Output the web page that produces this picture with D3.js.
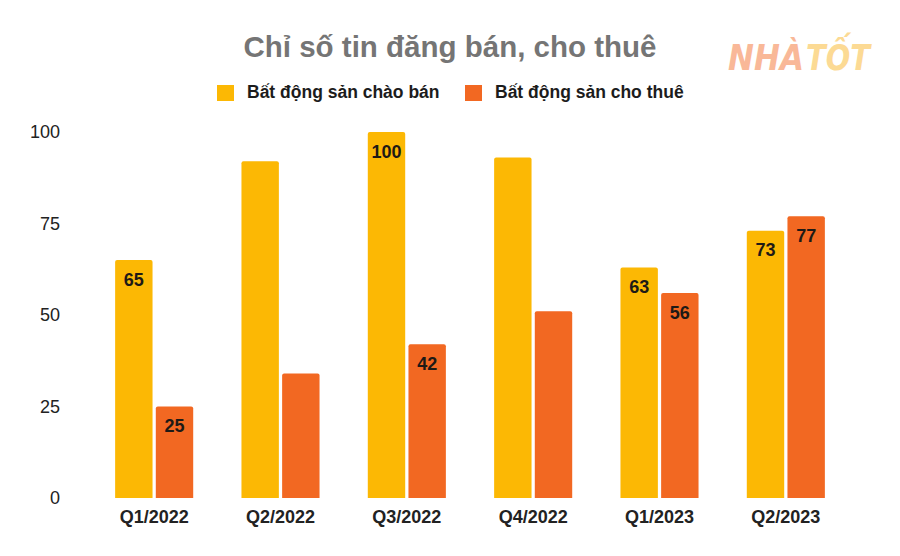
<!DOCTYPE html>
<html>
<head>
<meta charset="utf-8">
<script src="https://cdn.jsdelivr.net/npm/d3@7"></script>
<style>
  html, body { margin: 0; padding: 0; background: #fff; }
  svg { display: block; font-family: "Liberation Sans", Arial, sans-serif; }
</style>
</head>
<body>
<svg id="chart" width="900" height="556"></svg>
<script>
// Quarterly listing index
const quarters = ["Q1/2022", "Q2/2022", "Q3/2022", "Q4/2022", "Q1/2023", "Q2/2023"];
const seriesNames = ["Bất động sản chào bán", "Bất động sản cho thuê"];
const saleValues = [65, 92, 100, 93, 63, 73];
const rentValues = [25, 34, 42, 51, 56, 77];
// which bars carry a value label
const saleLabelled = [true, false, true, false, true, true];
const rentLabelled = [true, false, true, false, true, true];
const yTicks = [0, 25, 50, 75, 100];
const colors = ["#FCB804", "#F26822"];

const svg = d3.select("#chart");
svg.append("rect").attr("width", 900).attr("height", 556).attr("fill", "#fff");

const x0 = d3.scaleBand().domain(quarters).range([91, 849])
  .paddingInner(0.382).paddingOuter(0.191);
const x1 = d3.scaleBand().domain([0, 1]).range([0, x0.bandwidth()]).paddingInner(0.08);
const y = d3.scaleLinear().domain([0, 100]).range([498, 132]);

// Title
svg.append("text")
  .attr("x", 450).attr("y", 56.5)
  .attr("text-anchor", "middle")
  .attr("font-size", 29.5).attr("font-weight", "bold")
  .attr("fill", "#757575")
  .text("Chỉ số tin đăng bán, cho thuê");

// Brand mark, two words in two tints
const brand = [
  { text: "NHÀ", x: 728, w: 76, fill: "#F9B898" },
  { text: "TỐT", x: 806, w: 64, fill: "#FCDA94" }
];
brand.forEach(b => {
  svg.append("text")
    .attr("x", b.x).attr("y", 70)
    .attr("font-family", "'DejaVu Sans', sans-serif")
    .attr("font-size", 35).attr("font-weight", "bold").attr("font-style", "italic")
    .attr("textLength", b.w).attr("lengthAdjust", "spacingAndGlyphs")
    .attr("fill", b.fill)
    .text(b.text);
});

// Legend
const legendX = [217, 465];
seriesNames.forEach((name, i) => {
  svg.append("rect")
    .attr("x", legendX[i]).attr("y", 85)
    .attr("width", 17).attr("height", 16)
    .attr("fill", colors[i]);
  svg.append("text")
    .attr("x", legendX[i] + 30).attr("y", 98)
    .attr("font-size", 17.5).attr("font-weight", "bold")
    .attr("fill", "#1c1c1c")
    .text(name);
});

// Y axis labels (no axis line, no gridlines)
const yAxis = d3.axisLeft(y).tickValues(yTicks).tickSize(0).tickPadding(0);
const gy = svg.append("g").attr("transform", "translate(60,0)").call(yAxis);
gy.select(".domain").remove();
gy.selectAll("text")
  .attr("font-size", 18).attr("fill", "#222")
  .attr("font-family", "'Liberation Sans', Arial, sans-serif");

// X axis labels
const xAxis = d3.axisBottom(x0).tickSize(0).tickPadding(0);
const gx = svg.append("g").attr("transform", "translate(0,510)").call(xAxis);
gx.select(".domain").remove();
gx.selectAll("text")
  .attr("font-size", 18).attr("font-weight", "bold").attr("fill", "#222")
  .attr("font-family", "'Liberation Sans', Arial, sans-serif");

// Bars with slightly rounded tops
function topRounded(x, yTop, w, h, r) {
  return `M${x},${yTop + h}V${yTop + r}Q${x},${yTop} ${x + r},${yTop}` +
         `H${x + w - r}Q${x + w},${yTop} ${x + w},${yTop + r}V${yTop + h}Z`;
}

const rows = quarters.map((q, i) => ({
  q,
  vals: [
    { s: 0, v: saleValues[i], lab: saleLabelled[i] },
    { s: 1, v: rentValues[i], lab: rentLabelled[i] }
  ]
}));

const groups = svg.append("g").selectAll("g").data(rows).join("g")
  .attr("transform", d => `translate(${x0(d.q)},0)`);

groups.selectAll("path").data(d => d.vals).join("path")
  .attr("fill", d => colors[d.s])
  .attr("d", d => topRounded(x1(d.s), y(d.v), x1.bandwidth(), y(0) - y(d.v), 2));

groups.selectAll("text").data(d => d.vals.filter(v => v.lab)).join("text")
  .attr("x", d => x1(d.s) + x1.bandwidth() / 2)
  .attr("y", d => y(d.v) + 25.5)
  .attr("text-anchor", "middle")
  .attr("font-size", 18).attr("font-weight", "bold")
  .attr("fill", "#1e1a16")
  .text(d => d.v);
</script>
</body>
</html>
